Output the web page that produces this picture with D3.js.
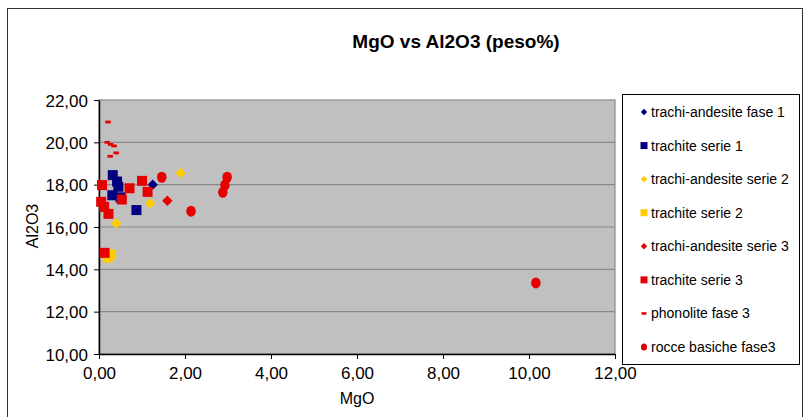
<!DOCTYPE html>
<html>
<head>
<meta charset="utf-8">
<script src="https://cdn.jsdelivr.net/npm/d3@7"></script>
<style>
  html, body { margin: 0; padding: 0; background: #fff; }
  svg { display: block; font-family: "Liberation Sans", Arial, sans-serif; }
</style>
</head>
<body>
<svg id="chart" width="809" height="417"></svg>
<script>
// Series: MgO (x) and Al2O3 (y), weight %
const seriesNames = [
  "trachi-andesite fase 1",
  "trachite serie 1",
  "trachi-andesite serie 2",
  "trachite serie 2",
  "trachi-andesite serie 3",
  "trachite serie 3",
  "phonolite fase 3",
  "rocce basiche fase3"
];
const seriesColors = ["#000080", "#000080", "#ffcc00", "#ffcc00", "#e60000", "#e60000", "#e60000", "#e60000"];
const seriesShapes = ["diamond", "square", "diamond", "square", "diamond", "square", "dash", "circle"];

const mgoTrachiAndesiteFase1 = [1.25];
const al2o3TrachiAndesiteFase1 = [18.0];

const mgoTrachiteSerie1 = [0.32, 0.42, 0.45, 0.31, 0.50, 0.87];
const al2o3TrachiteSerie1 = [18.45, 18.15, 17.90, 17.50, 17.40, 16.80];

const mgoTrachiAndesiteSerie2 = [1.90, 1.19, 0.40];
const al2o3TrachiAndesiteSerie2 = [18.55, 17.12, 16.17];

const mgoTrachiteSerie2 = [0.28, 0.20];
const al2o3TrachiteSerie2 = [14.70, 14.55];

const mgoTrachiAndesiteSerie3 = [1.59];
const al2o3TrachiAndesiteSerie3 = [17.24];

const mgoTrachiteSerie3 = [0.07, 0.05, 0.12, 0.22, 0.13, 0.53, 0.71, 1.00, 1.13];
const al2o3TrachiteSerie3 = [17.98, 17.19, 16.95, 16.62, 14.78, 17.30, 17.83, 18.18, 17.66];

const mgoPhonoliteFase3 = [0.21, 0.19, 0.27, 0.35, 0.40, 0.26];
const al2o3PhonoliteFase3 = [20.96, 20.00, 19.90, 19.83, 19.50, 19.34];

const mgoRocceBasicheFase3 = [1.46, 2.14, 2.98, 2.93, 2.88, 10.16];
const al2o3RocceBasicheFase3 = [18.35, 16.75, 18.35, 17.98, 17.64, 13.36];

const xTickValues = [0, 2, 4, 6, 8, 10, 12];
const yTickValues = [10, 12, 14, 16, 18, 20, 22];

const seriesX = [mgoTrachiAndesiteFase1, mgoTrachiteSerie1, mgoTrachiAndesiteSerie2, mgoTrachiteSerie2,
                 mgoTrachiAndesiteSerie3, mgoTrachiteSerie3, mgoPhonoliteFase3, mgoRocceBasicheFase3];
const seriesY = [al2o3TrachiAndesiteFase1, al2o3TrachiteSerie1, al2o3TrachiAndesiteSerie2, al2o3TrachiteSerie2,
                 al2o3TrachiAndesiteSerie3, al2o3TrachiteSerie3, al2o3PhonoliteFase3, al2o3RocceBasicheFase3];

const series = seriesNames.map((name, i) => ({
  name, color: seriesColors[i], shape: seriesShapes[i],
  points: seriesX[i].map((x, j) => ({ x, y: seriesY[i][j] }))
}));

const fmt = v => d3.format(".2f")(v).replace(".", ",");

const svg = d3.select("#chart");

// chart frame
svg.append("rect")
  .attr("x", 7.5).attr("y", 8.5).attr("width", 795).attr("height", 420)
  .attr("fill", "#fff").attr("stroke", "#333").attr("stroke-width", 1);

const plot = { left: 99, right: 615, top: 100, bottom: 354 };
const x = d3.scaleLinear().domain([0, 12]).range([plot.left, plot.right]);
const y = d3.scaleLinear().domain([10, 22]).range([plot.bottom, plot.top]);

// plot area
svg.append("rect")
  .attr("x", plot.left).attr("y", plot.top)
  .attr("width", plot.right - plot.left).attr("height", plot.bottom - plot.top)
  .attr("fill", "#c0c0c0").attr("stroke", "#8a8a8a").attr("stroke-width", 1.2);

// horizontal gridlines
svg.append("g").selectAll("line")
  .data(yTickValues.filter(v => v > 10 && v < 22))
  .join("line")
  .attr("x1", plot.left).attr("x2", plot.right)
  .attr("y1", d => y(d)).attr("y2", d => y(d))
  .attr("stroke", "#8a8a8a").attr("stroke-width", 1.2);

// axes
const xAxis = svg.append("g")
  .attr("transform", `translate(0,${plot.bottom})`)
  .call(d3.axisBottom(x).tickValues(xTickValues).tickFormat(fmt).tickSizeInner(5).tickSizeOuter(0).tickPadding(6));
const yAxis = svg.append("g")
  .attr("transform", `translate(${plot.left},0)`)
  .call(d3.axisLeft(y).tickValues(yTickValues).tickFormat(fmt).tickSizeInner(5).tickSizeOuter(0).tickPadding(6));

[xAxis, yAxis].forEach(g => {
  g.select(".domain").attr("stroke", "#000").attr("stroke-width", 1.5);
  g.selectAll(".tick line").attr("stroke", "#000");
  g.selectAll(".tick text").attr("fill", "#000").attr("font-size", 17)
    .attr("font-family", "'Liberation Sans', Arial, sans-serif");
});
yAxis.selectAll(".tick text").attr("dy", "0.36em");
xAxis.selectAll(".tick text").attr("dy", "0.85em");

// titles
svg.append("text")
  .attr("x", 456).attr("y", 48).attr("text-anchor", "middle")
  .attr("font-size", 19).attr("font-weight", "bold")
  .text("MgO vs Al2O3 (peso%)");
svg.append("text")
  .attr("x", 357).attr("y", 404).attr("text-anchor", "middle")
  .attr("font-size", 16)
  .text("MgO");
svg.append("text")
  .attr("transform", "translate(38,226) rotate(-90)").attr("text-anchor", "middle")
  .attr("font-size", 16)
  .text("Al2O3");

// marker drawing
function drawMarker(g, shape, color, s) {
  if (shape === "diamond") {
    g.append("path").attr("d", `M0,${-s}L${s},0L0,${s}L${-s},0Z`).attr("fill", color);
  } else if (shape === "square") {
    g.append("rect").attr("x", -s).attr("y", -s).attr("width", 2 * s).attr("height", 2 * s).attr("fill", color);
  } else if (shape === "circle") {
    g.append("ellipse").attr("rx", s * 0.95).attr("ry", s * 1.1).attr("fill", color);
  } else if (shape === "dash") {
    g.append("rect").attr("x", -s * 0.55).attr("y", -s * 0.28).attr("width", s * 1.1).attr("height", s * 0.56).attr("fill", color);
  }
}
const markerSize = { diamond: 5.2, square: 5, circle: 5, dash: 5 };

const pts = svg.append("g");
series.forEach(sr => {
  sr.points.forEach(p => {
    const g = pts.append("g").attr("transform", `translate(${x(p.x)},${y(p.y)})`);
    drawMarker(g, sr.shape, sr.color, markerSize[sr.shape]);
  });
});

// legend
const legend = svg.append("g");
legend.append("rect")
  .attr("x", 622.5).attr("y", 94.5).attr("width", 177).attr("height", 270)
  .attr("fill", "#fff").attr("stroke", "#000").attr("stroke-width", 1);
const legendY = d3.scalePoint().domain(seriesNames).range([112, 347]);
const legendMarker = { diamond: 3.2, square: 3.5, circle: 3.2, dash: 4.5 };
series.forEach(sr => {
  const cy = legendY(sr.name);
  const g = legend.append("g").attr("transform", `translate(644,${cy})`);
  drawMarker(g, sr.shape, sr.color, legendMarker[sr.shape]);
  legend.append("text")
    .attr("x", 651).attr("y", cy).attr("dy", "0.36em")
    .attr("font-size", 14).attr("fill", "#000")
    .text(sr.name);
});
</script>
</body>
</html>
